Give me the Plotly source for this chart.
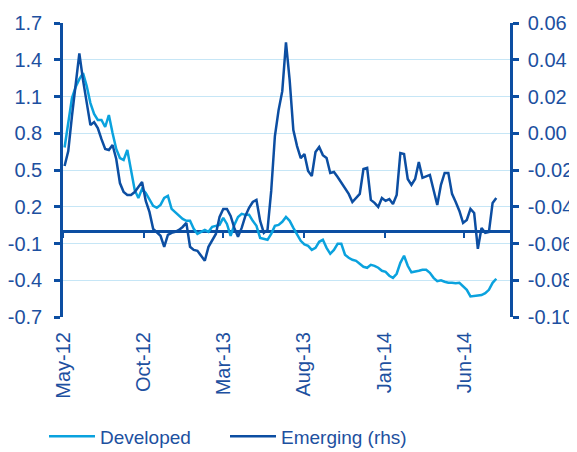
import pandas as pd
import plotly.graph_objects as go

# ---------------- data ----------------
start_date = "2012-05-04"          # first weekly observation
axis_start = "2012-05-01"
axis_end = "2014-08-27"

developed = [
    0.684, 0.875, 1.087, 1.177, 1.242, 1.291, 1.185, 1.046, 0.957, 0.908,
    0.908, 0.851, 0.949, 0.802, 0.672, 0.598, 0.582, 0.663, 0.484, 0.337,
    0.272, 0.346, 0.313, 0.264, 0.207, 0.191, 0.215, 0.272, 0.289, 0.183,
    0.158, 0.134, 0.101, 0.085, 0.085, 0.020, -0.021, -0.005, 0.011, -0.005,
    0.036, 0.044, 0.052, 0.109, 0.060, -0.037, 0.052, 0.117, 0.142, 0.134,
    0.134, 0.085, 0.044, -0.054, -0.062, -0.070, -0.021, 0.044, 0.052, 0.077,
    0.117, 0.085, 0.028, -0.021, -0.078, -0.107, -0.119, -0.152, -0.135, -0.086,
    -0.070, -0.135, -0.184, -0.152, -0.103, -0.103, -0.192, -0.217, -0.233, -0.241,
    -0.266, -0.290, -0.298, -0.274, -0.282, -0.298, -0.323, -0.331, -0.363, -0.380,
    -0.347, -0.258, -0.200, -0.282, -0.335, -0.331, -0.323, -0.315, -0.315, -0.339,
    -0.380, -0.408, -0.400, -0.412, -0.421, -0.421, -0.425, -0.421, -0.449, -0.478,
    -0.532, -0.531, -0.524, -0.521, -0.506, -0.478, -0.421, -0.388,
]

emerging = [
    -0.0178, -0.0097, 0.0093, 0.0278, 0.0435, 0.0289, 0.0169, 0.0044, 0.0061, 0.0028,
    -0.0032, -0.0086, -0.0091, -0.0064, -0.0140, -0.0271, -0.0320, -0.0336, -0.0336, -0.0320,
    -0.0292, -0.0265, -0.0368, -0.0428, -0.0520, -0.0537, -0.0558, -0.0618, -0.0553, -0.0542,
    -0.0537, -0.0526, -0.0510, -0.0488, -0.0618, -0.0635, -0.0640, -0.0667, -0.0694, -0.0618,
    -0.0580, -0.0548, -0.0455, -0.0412, -0.0412, -0.0450, -0.0515, -0.0564, -0.0515, -0.0450,
    -0.0406, -0.0374, -0.0363, -0.0477, -0.0542, -0.0526, -0.0314, -0.0015, 0.0126, 0.0229,
    0.0495, 0.0289, 0.0017, -0.0070, -0.0135, -0.0113, -0.0205, -0.0233, -0.0102, -0.0075,
    -0.0119, -0.0135, -0.0216, -0.0211, -0.0238, -0.0271, -0.0298, -0.0330, -0.0374, -0.0352,
    -0.0330, -0.0195, -0.0189, -0.0363, -0.0379, -0.0401, -0.0352, -0.0368, -0.0358, -0.0385,
    -0.0336, -0.0108, -0.0113, -0.0249, -0.0281, -0.0249, -0.0157, -0.0243, -0.0233, -0.0227,
    -0.0309, -0.0390, -0.0281, -0.0216, -0.0216, -0.0330, -0.0374, -0.0423, -0.0488, -0.0472,
    -0.0412, -0.0434, -0.0629, -0.0515, -0.0542, -0.0537, -0.0379, -0.0352,
]

x_tick_dates = ["2012-05-01", "2012-10-01", "2013-03-01", "2013-08-01", "2014-01-01", "2014-06-01"]
x_tick_labels = ["May-12", "Oct-12", "Mar-13", "Aug-13", "Jan-14", "Jun-14"]

left_tick_values = [-0.7, -0.4, -0.1, 0.2, 0.5, 0.8, 1.1, 1.4, 1.7]
left_tick_labels = ["-0.7", "-0.4", "-0.1", "0.2", "0.5", "0.8", "1.1", "1.4", "1.7"]
right_tick_values = [-0.10, -0.08, -0.06, -0.04, -0.02, 0.00, 0.02, 0.04, 0.06]
right_tick_labels = ["-0.10", "-0.08", "-0.06", "-0.04", "-0.02", "0.00", "0.02", "0.04", "0.06"]

# ---------------- styling ----------------
DARK = "#0c4ea2"
LIGHT = "#0aa2de"
TEXT = "#1d50a0"
GRID = "#c6e6f6"
FONT = "Liberation Sans, Arial, sans-serif"

dates = pd.date_range(start_date, periods=len(developed), freq="7D")
x_range = [axis_start, axis_end]

fig = go.Figure()
fig.add_trace(go.Scatter(
    x=dates, y=developed, name="Developed", mode="lines",
    line=dict(color=LIGHT, width=2.5), xaxis="x", yaxis="y"))
fig.add_trace(go.Scatter(
    x=dates, y=emerging, name="Emerging (rhs)", mode="lines",
    line=dict(color=DARK, width=2.5), xaxis="x", yaxis="y2"))
# carrier for the tick marks sitting on the zero line
fig.add_trace(go.Scatter(x=[], y=[], xaxis="x2", yaxis="y",
                         showlegend=False, hoverinfo="skip"))

y_min, y_max = -0.7, 1.7

# the page adds an 8px body margin, so the figure is drawn 8px smaller
fig.update_layout(
    width=569, height=444,
    paper_bgcolor="white", plot_bgcolor="white",
    margin=dict(l=55, r=67, t=14.7, b=134.7, autoexpand=False),
    font=dict(family=FONT, color=TEXT, size=20),
    showlegend=True,
    legend=dict(orientation="h", x=-0.0425, xanchor="left", y=-0.406, yanchor="middle",
                font=dict(size=19, color=TEXT, family=FONT), itemwidth=46,
                entrywidth=120, bgcolor="rgba(0,0,0,0)"),
    xaxis=dict(
        type="date", range=x_range,
        tickmode="array", tickvals=x_tick_dates, ticktext=x_tick_labels,
        tickangle=-90, ticks="", showline=False, showgrid=False, zeroline=False,
        tickfont=dict(size=20, color=TEXT, family=FONT),
        ticklabelstandoff=10,
    ),
    xaxis2=dict(
        type="date", range=x_range, overlaying="x", anchor="free",
        position=(0 - y_min) / (y_max - y_min),
        tickmode="array", tickvals=x_tick_dates,
        ticks="outside", ticklen=6, tickwidth=2, tickcolor=DARK,
        showticklabels=False, showline=False, showgrid=False, zeroline=False,
    ),
    yaxis=dict(
        range=[y_min, y_max], tickmode="array",
        tickvals=left_tick_values, ticktext=left_tick_labels,
        showgrid=True, gridcolor=GRID, gridwidth=1,
        zeroline=True, zerolinecolor=DARK, zerolinewidth=2.5,
        showline=True, linecolor=DARK, linewidth=2.5,
        ticks="outside", ticklen=6, tickwidth=2.5, tickcolor=DARK,
        tickfont=dict(size=20, color=TEXT, family=FONT),
        ticklabelstandoff=8,
    ),
    yaxis2=dict(
        range=[-0.10, 0.06], overlaying="y", side="right", tickmode="array",
        tickvals=right_tick_values, ticktext=right_tick_labels,
        showgrid=False, zeroline=False,
        showline=True, linecolor=DARK, linewidth=2.5,
        ticks="outside", ticklen=6, tickwidth=2.5, tickcolor=DARK,
        tickfont=dict(size=20, color=TEXT, family=FONT),
        ticklabelstandoff=5,
    ),
)

fig.write_html("out.html")
